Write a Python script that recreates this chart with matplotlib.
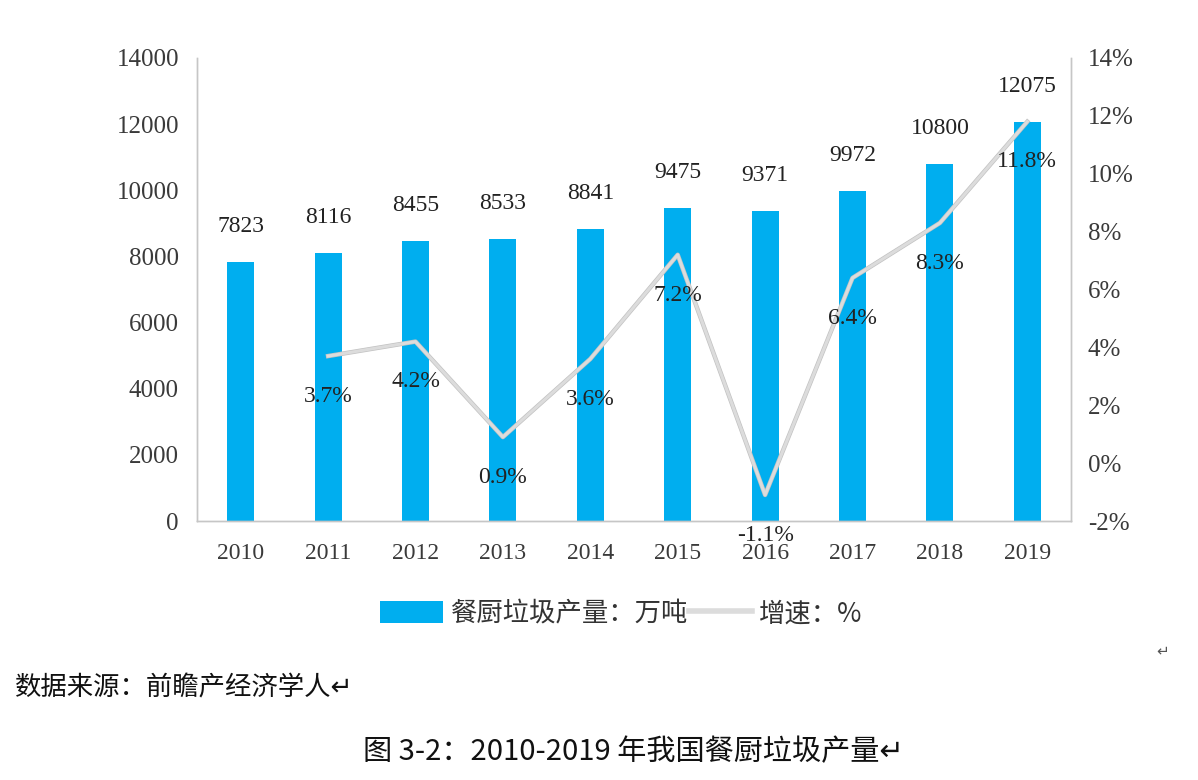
import matplotlib
matplotlib.use("Agg")
import matplotlib.pyplot as plt
import matplotlib.patheffects as pe
from matplotlib.patches import Patch
from matplotlib.lines import Line2D

years = ["2010", "2011", "2012", "2013", "2014", "2015", "2016", "2017", "2018", "2019"]
output_wt = [7823, 8116, 8455, 8533, 8841, 9475, 9371, 9972, 10800, 12075]
growth_years = ["2011", "2012", "2013", "2014", "2015", "2016", "2017", "2018", "2019"]
growth_pct = [3.7, 4.2, 0.9, 3.6, 7.2, -1.1, 6.4, 8.3, 11.8]
left_ticks = [0, 2000, 4000, 6000, 8000, 10000, 12000, 14000]
right_ticks = [-2, 0, 2, 4, 6, 8, 10, 12, 14]

BAR = "#00AEEF"
LINE = "#DCDCDC"
SPINE = "#C6C6C6"
TXT = "#3a3a3a"
SERIF = "Liberation Serif"
CJK = ["Noto Sans CJK SC", "DejaVu Sans"]

fig = plt.figure(figsize=(11.98, 7.80), dpi=100)
fig.patch.set_facecolor("white")
ax = fig.add_axes([197/1198, 1-521/780, (1071-197)/1198, (521-58)/780])
ax2 = ax.twinx()

x = list(range(len(years)))
ax.bar(x, output_wt, width=0.31, color=BAR, zorder=2)
ax.set_xlim(-0.5, len(years)-0.5)
ax.set_ylim(0, 14000)
ax.set_yticks(left_ticks)
ax.set_yticklabels([str(v) for v in left_ticks])
ax.set_xticks(x)
ax.set_xticklabels(years)

gx = [years.index(y) for y in growth_years]
ax2.plot(gx, growth_pct, color=LINE, lw=2.2, zorder=3,
         path_effects=[pe.Stroke(linewidth=3.2, foreground="#c2c2c2"), pe.Normal()])
ax2.set_ylim(-2, 14)
ax2.set_yticks(right_ticks)
ax2.set_yticklabels([f"{v}%" for v in right_ticks])

for a in (ax, ax2):
    a.spines["top"].set_visible(False)
    for s in ("left", "right", "bottom"):
        a.spines[s].set_color(SPINE)
        a.spines[s].set_linewidth(1.0)
    a.tick_params(length=0, labelsize=18, colors=TXT)
    for lab in a.get_xticklabels() + a.get_yticklabels():
        lab.set_fontfamily(SERIF)
ax.tick_params(axis="x", labelsize=17, pad=16)
ax.tick_params(axis="y", pad=13)
ax2.tick_params(axis="y", pad=12)

for xi, v in zip(x, output_wt):
    ax.annotate(str(v), (xi, v), xytext=(0, 18), textcoords="offset points",
                ha="center", va="bottom", fontsize=17, fontfamily=SERIF, color="#222222")
for xi, v in zip(gx, growth_pct):
    ax2.annotate(f"{v}%", (xi, v), xytext=(0, -29), textcoords="offset points",
                 ha="center", va="center", fontsize=17, fontfamily=SERIF, color="#222222", zorder=4)

handles = [Patch(facecolor=BAR, edgecolor="none"),
           Line2D([0], [0], color=LINE, lw=4)]
leg = fig.legend(handles, ["餐厨垃圾产量：万吨", "增速：%"], loc="center",
                 bbox_to_anchor=(621/1198, 1-614/780), ncol=2, frameon=False,
                 prop={"family": CJK, "size": 19}, handlelength=2.4, handleheight=0.9,
                 handletextpad=0.25, columnspacing=0.05)
for t in leg.get_texts():
    t.set_color("#333333")

fig.text(1163/1198, 1-651/780, "↵", fontsize=11, color="#555555", ha="center", va="center",
         fontfamily=["DejaVu Sans"])
fig.text(15/1198, 1-688/780, "数据来源：前瞻产经济学人↵", fontsize=19, style="italic",
         color="#111111", ha="left", va="center", fontfamily=CJK)
fig.text(633/1198, 1-752/780, "图 3-2：2010-2019 年我国餐厨垃圾产量↵", fontsize=21,
         color="#111111", ha="center", va="center", fontfamily=CJK)

fig.savefig("out.png", dpi=100, facecolor="white")
